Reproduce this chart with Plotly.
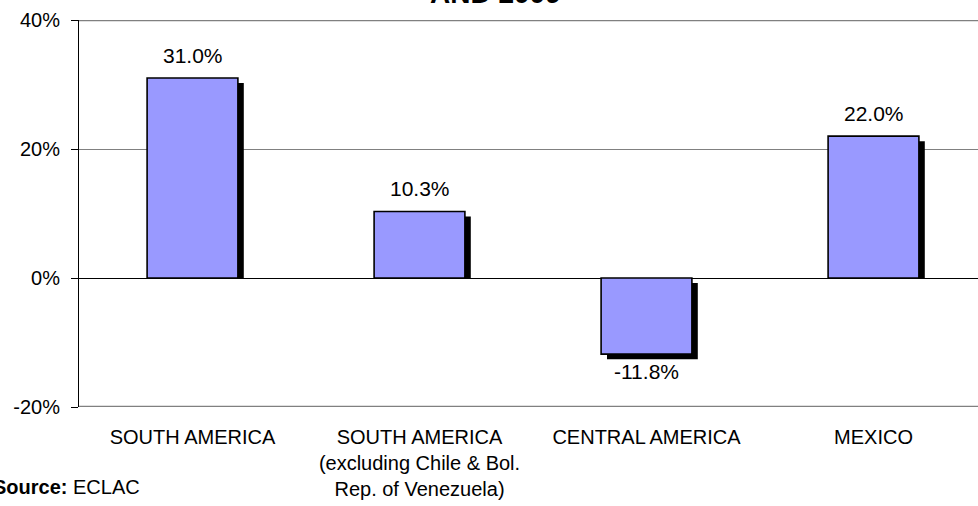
import plotly.graph_objects as go

# Growth rates by subregion
categories = [
    "SOUTH AMERICA",
    "SOUTH AMERICA<br>(excluding Chile & Bol.<br>Rep. of Venezuela)",
    "CENTRAL AMERICA",
    "MEXICO",
]
values = [31.0, 10.3, -11.8, 22.0]
y_ticks = [-20, 0, 20, 40]
y_tick_labels = ["-20%", "0%", "20%", "40%"]

positions = list(range(len(categories)))

BAR_COLOR = "#9999FF"
FONT = "Liberation Sans, Arial, sans-serif"
BAR_W = 0.4
SHADOW_DX = 0.026   # shadow offset, category units
SHADOW_DY = 0.78    # shadow offset, percentage points

# Drop shadow: offset to the right and down, never extending below the zero line
shadow_base = [(-SHADOW_DY if v < 0 else 0) for v in values]
shadow_len = [(v if v < 0 else v - SHADOW_DY) for v in values]

fig = go.Figure()
fig.add_trace(go.Bar(
    x=[p + SHADOW_DX for p in positions], y=shadow_len, base=shadow_base,
    width=BAR_W, marker=dict(color="black", line=dict(width=0)),
    hoverinfo="skip", showlegend=False,
))
fig.add_trace(go.Bar(
    x=positions, y=values, width=BAR_W,
    marker=dict(color=BAR_COLOR, line=dict(color="black", width=1.6)),
    showlegend=False,
))

# Value labels
for p, v in zip(positions, values):
    fig.add_annotation(
        x=p, y=v, xref="x", yref="y", text=f"{v:.1f}%", showarrow=False,
        yanchor="middle", yshift=(23 if v >= 0 else -17),
        font=dict(family=FONT, size=21, color="black"),
    )

x_range = [-0.5, -0.5 + 899 / 227]

fig.update_layout(
    width=978, height=506,
    margin=dict(l=79, r=0, t=20, b=99),
    paper_bgcolor="white", plot_bgcolor="white",
    barmode="overlay",
    font=dict(family=FONT, size=20, color="black"),
    xaxis=dict(
        range=x_range, tickmode="array", tickvals=positions, ticktext=categories,
        showline=False, ticks="", showgrid=False, zeroline=False,
        tickfont=dict(family=FONT, size=20, color="black"),
        ticklabelstandoff=16,
    ),
    # Category-boundary tick marks sitting on the zero line
    xaxis2=dict(
        overlaying="x", anchor="free", position=1 / 3, matches="x",
        range=x_range, tickmode="array", tickvals=[0.5, 1.5, 2.5],
        ticks="outside", ticklen=6, tickwidth=2, tickcolor="#808080",
        showticklabels=False, showline=False, showgrid=False, zeroline=False,
    ),
    yaxis=dict(
        range=[-20, 40], tickmode="array", tickvals=y_ticks, ticktext=y_tick_labels,
        showline=True, linecolor="black", linewidth=1,
        ticks="outside", ticklen=7, tickcolor="black", tickwidth=1,
        showgrid=True, gridcolor="#808080", gridwidth=1,
        zeroline=True, zerolinecolor="black", zerolinewidth=1,
        tickfont=dict(family=FONT, size=20, color="black"),
        ticklabelstandoff=7,
    ),
    shapes=[
        dict(type="line", xref="paper", yref="y", x0=0, x1=1, y0=40, y1=40,
             line=dict(color="#808080", width=2.5), layer="below"),
        dict(type="line", xref="paper", yref="y", x0=0, x1=1, y0=-20, y1=-20,
             line=dict(color="#808080", width=2.5), layer="below"),
    ],
    annotations=list(fig.layout.annotations) + [
        dict(text="<b>AND 2009</b>", xref="paper", yref="paper",
             x=(495 - 79) / 899, y=1, xanchor="center", yanchor="bottom",
             yshift=9, showarrow=False,
             font=dict(family=FONT, size=28, color="black")),
        dict(text="<b>Source:</b> ECLAC", xref="paper", yref="paper",
             x=(-9 - 79) / 899, y=-(500 - 407) / 387, xanchor="left",
             yanchor="bottom", showarrow=False,
             font=dict(family=FONT, size=20, color="black")),
    ],
)

fig.write_html("out.html")
